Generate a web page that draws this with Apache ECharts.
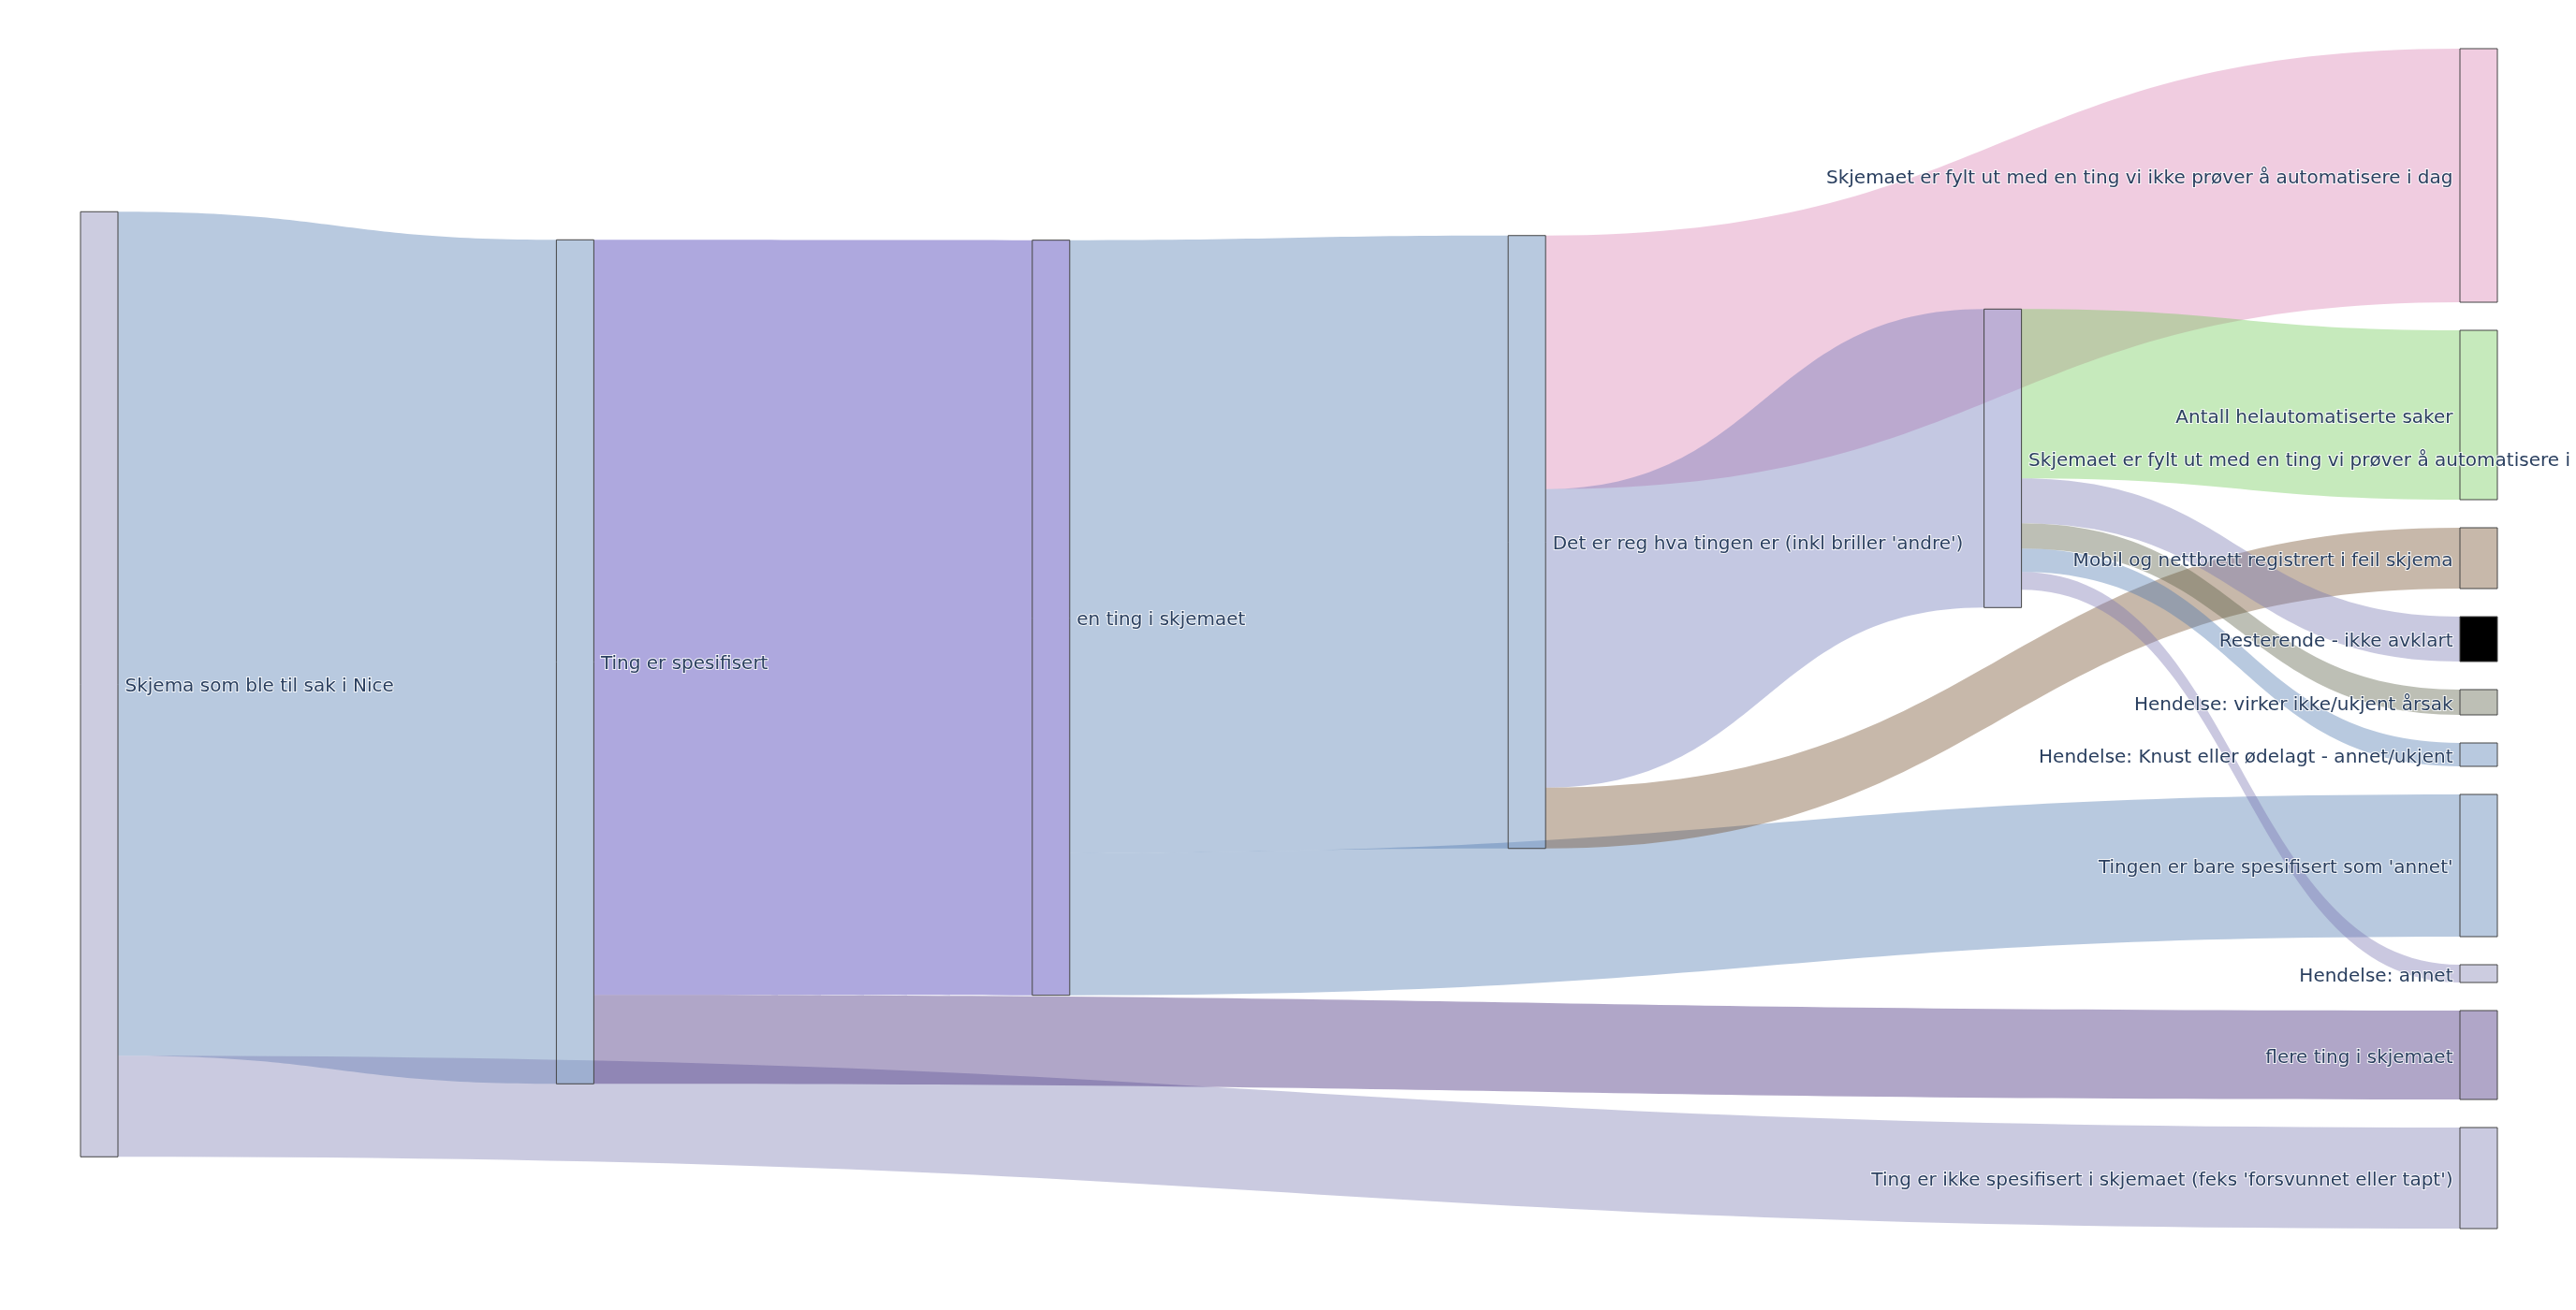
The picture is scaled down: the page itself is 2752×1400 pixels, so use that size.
<!DOCTYPE html>
<html>
<head>
<meta charset="utf-8">
<script src="https://cdn.jsdelivr.net/npm/echarts@6/dist/echarts.min.js"></script>
<style>html,body{margin:0;padding:0;background:#fff;}#c{width:2752px;height:1400px;}</style>
</head>
<body>
<div id="c"></div>
<script>
// ---- data ----
const nodeNames = [
  "Skjema som ble til sak i Nice",
  "Ting er spesifisert",
  "en ting i skjemaet",
  "Det er reg hva tingen er (inkl briller 'andre')",
  "Skjemaet er fylt ut med en ting vi prøver å automatisere i dag",
  "Skjemaet er fylt ut med en ting vi ikke prøver å automatisere i dag",
  "Antall helautomatiserte saker",
  "Mobil og nettbrett registrert i feil skjema",
  "Resterende - ikke avklart",
  "Hendelse: virker ikke/ukjent årsak",
  "Hendelse: Knust eller ødelagt - annet/ukjent",
  "Tingen er bare spesifisert som 'annet'",
  "Hendelse: annet",
  "flere ting i skjemaet",
  "Ting er ikke spesifisert i skjemaet (feks 'forsvunnet eller tapt')"
];
const linkSources = [0, 0, 1, 1, 2, 2, 3, 3, 3, 4, 4, 4, 4, 4];
const linkTargets = [1, 14, 2, 13, 3, 11, 5, 4, 7, 6, 8, 9, 10, 12];
const linkValues  = [902, 108, 807, 95, 655, 152, 271, 319, 65, 181, 48, 27, 25, 19];

// ---- layout (relative vertical placement of the inner columns, as arranged in the original) ----
const nodeLocalY = [0.1382, 0.1620, 0.1623, 0.1584, 0.2207];

// ---- styles ----
const nodeAppearance = ['#ccccE0', '#b8c9df', '#aea8de', '#b8c9df', '#c4c8e4',
  '#f0cce0', '#c6eabc', '#c7b8aa', '#000000', '#bdbfb5', '#b8c9df', '#b8c9df', '#ccccE0', '#b0a6c8', '#cacae0'];
const linkAppearance = ['#b8c9df', '#cacae0', '#aea8de', '#b0a6c8', '#b8c9df', '#b8c9df', '#f0cce0',
  '#c4c8e2', '#c7b8aa', '#c6eabc', '#c9c9e0', '#bdbfb5', '#b8c9df', '#cac8e0'];
const rightColumn = [5, 6, 7, 8, 9, 10, 11, 12, 13, 14];

function overWhite(hex, a) {
  const h = hex.replace('#', '');
  const c = [0, 2, 4].map(i => parseInt(h.substr(i, 2), 16));
  const b = c.map(v => Math.max(0, Math.min(255, Math.round((v - (1 - a) * 255) / a))));
  return 'rgba(' + b.join(',') + ',' + a + ')';
}

const nodes = nodeNames.map((n, i) => {
  const item = {
    name: n,
    itemStyle: { color: nodeAppearance[i] === '#000000' ? '#000' : overWhite(nodeAppearance[i], 0.5) },
    label: { position: rightColumn.indexOf(i) >= 0 ? 'left' : 'right' }
  };
  if (i < nodeLocalY.length) item.localY = nodeLocalY[i];
  return item;
});
const links = linkSources.map((s, i) => ({
  source: nodeNames[s],
  target: nodeNames[linkTargets[i]],
  value: linkValues[i],
  lineStyle: { color: overWhite(linkAppearance[i], 0.4), opacity: 1 }
}));

const chart = echarts.init(document.getElementById('c'), null, { renderer: 'canvas' });
chart.setOption({
  backgroundColor: '#fff',
  animation: false,
  series: [{
    type: 'sankey',
    left: 86, right: 84, top: 52, bottom: 87,
    nodeWidth: 40,
    nodeGap: 30,
    nodeAlign: 'justify',
    layoutIterations: 0,
    draggable: false,
    emphasis: { disabled: true },
    itemStyle: { borderColor: '#444', borderWidth: 1 },
    lineStyle: { curveness: 0.5, opacity: 1 },
    label: {
      fontFamily: 'DejaVu Sans', fontSize: 20, color: '#2a3f5f',
      textBorderColor: 'rgba(255,255,255,0.85)', textBorderWidth: 2, distance: 7,
      offset: [0, 3]
    },
    data: nodes,
    links: links
  }]
});
</script>
</body>
</html>
